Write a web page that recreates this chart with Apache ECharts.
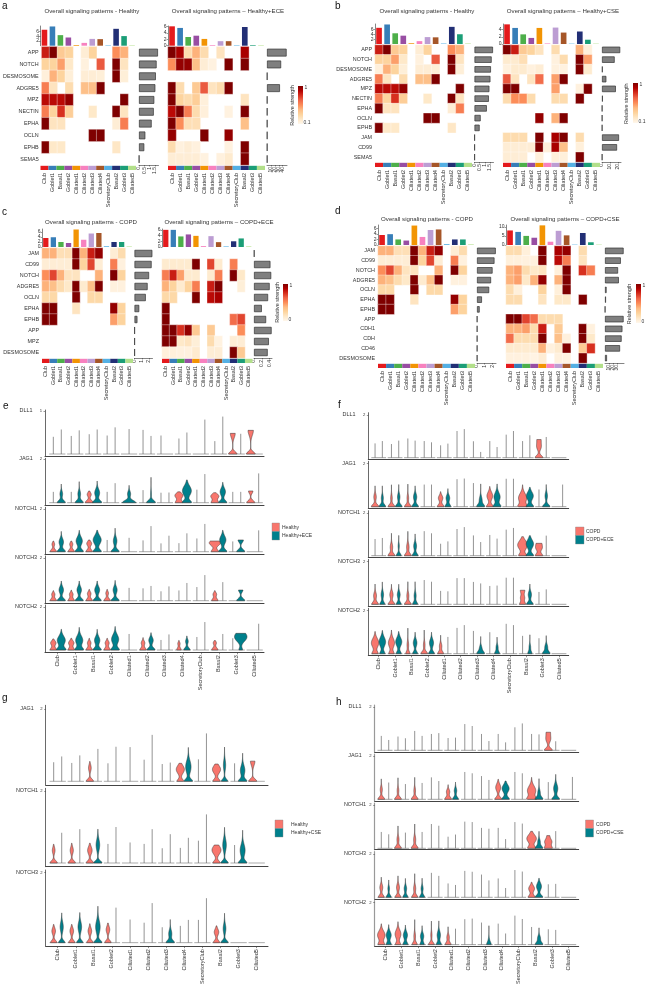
<!DOCTYPE html>
<html><head><meta charset="utf-8">
<style>html,body{margin:0;padding:0;background:#fff}#c{width:646px;height:987px}</style>
<script src="https://cdn.jsdelivr.net/npm/echarts@6/dist/echarts.min.js"></script>
</head><body><div id="c"></div>
<script>
// ---------- DATA ----------
const cats = ['Club','Goblet1','Basal1','Goblet2','Ciliated1','Ciliated2','Ciliated3','Ciliated4','SecretoryClub','Basal2','Goblet3','Ciliated5'];
const catColors = ['#e41a1c','#377eb8','#4daf4a','#984ea3','#f29403','#f781bf','#bc9dd3','#a65628','#54b0e4','#222f75','#1b9e77','#b2df8a'];

const aLeftRows = ['APP','NOTCH','DESMOSOME','ADGRE5','MPZ','NECTIN','EPHA','OCLN','EPHB','SEMA5'];
const aLeftHeat = [
 [.8,1,.3,.25,0,.08,.25,0,0,.5,.4,0],
 [.25,.25,.45,.12,0,.05,0,.65,0,1,.15,0],
 [.06,.4,.25,.07,0,.08,.08,.07,0,1,.07,0],
 [.55,.15,0,.2,0,.35,.35,1,0,0,0,0],
 [.85,.85,.85,.95,0,0,0,0,0,0,1,0],
 [.55,.25,.75,.28,0,0,.12,0,0,1,.15,0],
 [1,.15,.15,0,0,0,0,0,0,.08,.55,0],
 [0,0,0,0,0,0,1,1,0,0,0,0],
 [1,.12,.12,0,0,0,0,0,0,.13,0,0],
 [0,0,0,0,0,0,0,0,0,0,0,0]];
const aLeftTop = [6.8,8.2,4.5,3.5,.3,1.2,2.9,2.8,.2,7.2,4.1,.2];
const aLeftBars = [1.8,1.67,1.6,1.55,1.45,1.4,1.2,.6,.5,.02];
const aRightHeat = [
 [1,.9,.2,.4,.2,0,.15,0,0,.9,0,0],
 [.5,.95,.95,.35,.08,.04,0,1,0,1,0,0],
 [0,0,0,0,0,0,0,0,0,0,0,0],
 [1,.2,0,.3,.65,.15,.2,1,0,0,0,0],
 [1,.25,.2,.28,.06,0,0,0,0,.15,0,0],
 [.85,1,.55,.2,.06,0,0,.04,0,1,0,0],
 [1,.5,.18,.18,0,0,0,0,0,.35,0,0],
 [.95,0,0,0,1,0,0,.95,0,0,0,0],
 [.2,.05,.08,.05,0,0,0,.04,0,1,0,0],
 [.08,.08,.08,.08,.04,0,.05,.1,0,1,0,0]];
const aRightTop = [6,5.5,2.7,3.1,2.1,.2,1.4,1.4,.15,5.8,.2,.15];
const aRightBars = [50,36,.8,33,.8,.8,.8,.8,.8,.8];

const bRows = ['APP','NOTCH','DESMOSOME','ADGRE5','MPZ','NECTIN','EPHA','OCLN','EPHB','JAM','CD99','SEMA5'];
const bLeftHeat = [
 [.8,1,.3,.25,0,.08,.25,0,0,.5,.4,0],
 [.25,.25,.45,.12,0,.05,0,.65,0,1,.15,0],
 [.06,.4,.25,.07,0,.08,.08,.07,0,1,.07,0],
 [.55,.15,0,.2,0,.35,.35,1,0,0,0,0],
 [.85,.85,.85,.95,0,0,0,0,0,0,1,0],
 [.55,.25,.75,.28,0,0,.12,0,0,1,.15,0],
 [1,.15,.15,0,0,0,0,0,0,.08,.55,0],
 [0,0,0,0,0,0,1,1,0,0,0,0],
 [1,.12,.12,0,0,0,0,0,0,.13,0,0],
 [0,0,0,0,0,0,0,0,0,0,0,0],
 [0,0,0,0,0,0,0,0,0,0,0,0],
 [0,0,0,0,0,0,0,0,0,0,0,0]];
const bLeftTop = [6.8,8.2,4.5,3.5,.3,1.2,2.9,2.8,.2,7.2,4.1,.2];
const bLeftBars = [1.8,1.67,1.6,1.55,1.45,1.4,1.2,.6,.5,.02,.02,.02];
const bRightHeat = [
 [1,.8,.3,.25,.15,0,.2,0,0,.4,.06,0],
 [.1,.1,.18,0,0,0,.05,.2,0,1,.45,0],
 [.05,.1,.1,.05,.08,0,.05,.04,0,1,.1,0],
 [.65,.15,0,.15,.6,0,.45,1,0,0,0,0],
 [1,1,0,0,0,0,.45,0,0,.05,1,0],
 [.2,.5,.5,.2,0,0,.2,.2,0,1,0,0],
 [0,0,0,0,0,0,0,0,0,0,0,0],
 [0,0,0,0,.95,0,.4,1,0,0,0,0],
 [0,0,0,0,0,0,0,0,0,0,0,0],
 [.2,.2,.2,0,1,0,.9,1,0,.2,0,0],
 [.08,.08,.08,.08,1,.06,.9,.35,0,.06,0,0],
 [.08,.08,.08,0,.06,0,.06,.06,0,1,0,0]];
const bRightTop = [5.5,4.5,2.7,1.7,4.5,.15,4.6,3.2,.1,3.5,1.2,.1];
const bRightBars = [23,16,.8,5.5,17.5,1,.3,.3,.3,21.5,19,.3];

const cRows = ['JAM','CD99','NOTCH','ADGRE5','OCLN','EPHA','EPHB','APP','MPZ','DESMOSOME'];
const cLeftHeat = [
 [.4,.4,.18,.18,1,.4,.8,.95,0,.08,.2,0],
 [.08,.08,.08,.08,1,.25,.7,.08,0,.55,.05,0],
 [.5,.7,.4,.15,.15,0,0,.4,0,1,.25,0],
 [.4,.35,.2,.12,1,.1,.35,1,0,.05,.05,0],
 [.22,.22,0,0,1,0,.22,.22,0,0,0,0],
 [1,1,0,0,.15,0,0,0,0,.95,.25,0],
 [1,1,0,0,0,0,0,0,0,.45,.25,0],
 [0,0,0,0,0,0,0,0,0,0,0,0],
 [0,0,0,0,0,0,0,0,0,0,0,0],
 [0,0,0,0,0,0,0,0,0,0,0,0]];
const cLeftTop = [3.6,3.9,2,1.6,7,2.9,5.4,5.6,.3,2,2,.2];
const cLeftBars = [2.45,2.35,2,1.8,1.55,.65,.4,.03,.03,.03];
const cRightHeat = [
 [0,0,0,0,0,0,0,0,0,0,0,0],
 [.1,.1,.1,.1,1,0,.7,.1,0,.55,0,0],
 [.55,.8,.45,.1,.1,0,.1,.55,0,1,.12,0],
 [.4,.25,.1,.25,.55,0,.8,1,0,0,.07,0],
 [.22,.22,0,0,1,0,.85,.9,0,0,0,0],
 [1,0,0,0,0,0,0,0,0,0,0,0],
 [1,0,0,0,0,0,0,0,0,.6,.7,0],
 [1,1,.75,.95,.3,0,.3,0,0,0,.5,0],
 [1,1,.12,.15,.07,0,.2,.04,0,.08,.08,0],
 [.06,.06,.05,.05,.1,0,.08,.08,0,1,.3,0]];
const cRightTop = [6,6,3.7,4.4,3.9,.3,3.8,1.7,.2,2,3,.2];
const cRightBars = [.01,.42,.44,.4,.36,.2,.31,.45,.38,.35];

const dRows = ['JAM','CD99','NOTCH','ADGRE5','OCLN','EPHA','EPHB','APP','CDH1','CDH','CD46','DESMOSOME'];
const dLeftHeat = [
 [.4,.4,.18,.18,1,.4,.8,.95,0,.08,.2,0],
 [.08,.08,.08,.08,1,.25,.7,.08,0,.55,.05,0],
 [.5,.7,.4,.15,.15,0,0,.4,0,1,.25,0],
 [.4,.35,.2,.12,1,.1,.35,1,0,.05,.05,0],
 [.22,.22,0,0,1,0,.22,.22,0,0,0,0],
 [1,1,0,0,.15,0,0,0,0,.95,.25,0],
 [1,1,0,0,0,0,0,0,0,.45,.25,0],
 [0,0,0,0,0,0,0,0,0,0,0,0],
 [0,0,0,0,0,0,0,0,0,0,0,0],
 [0,0,0,0,0,0,0,0,0,0,0,0],
 [0,0,0,0,0,0,0,0,0,0,0,0],
 [0,0,0,0,0,0,0,0,0,0,0,0]];
const dLeftTop = [3.6,3.9,2,1.6,7,2.9,5.4,5.6,.3,2,2,.2];
const dLeftBars = [2.47,2.3,2.05,1.85,1.6,.65,.35,.03,.03,.03,.03,.03];
const dRightHeat = [
 [.2,.2,.06,0,1,0,.9,.95,0,.2,0,0],
 [.06,.06,.05,.05,1,0,.85,.55,0,.15,0,0],
 [.4,.45,.2,.12,.15,0,.06,1,0,.75,.55,0],
 [.4,.45,.12,.4,.95,0,.4,1,0,0,0,0],
 [.2,.06,0,0,.25,0,.06,1,0,0,0,0],
 [.2,.2,0,0,.15,0,.12,.12,0,1,0,0],
 [0,0,0,0,0,0,0,0,0,0,0,0],
 [1,1,.7,.6,.2,.2,.2,0,0,0,0,0],
 [.4,.4,.45,.2,.8,0,.3,0,0,1,.05,0],
 [.6,.2,.2,.2,1,0,.35,.05,0,1,.12,0],
 [.1,.1,.1,.1,.4,.05,.1,1,0,.3,.75,0],
 [.05,.05,.05,.03,.08,0,.05,.04,0,1,0,0]];
const dRightTop = [8,7.2,5,4,10.8,1.8,7.8,5.3,.2,6.6,1.5,.2];
const dRightBars = [47,40,33,35,4,2.5,.4,47,44,42,38,5];

const eGenes = ['DLL1','JAG1','NOTCH1','NOTCH3','NOTCH2'];
const eTickValues = [1,2,2,2,2];
const eRed = [
 [.4,.42,.46,.43,null,.56,.43,.36,null,.3,.48,.55],
 [.5,.5,.54,.5,null,.58,.46,.5,.6,.46,.5,.54],
 [.5,.5,.55,.55,null,.53,.39,.4,.62,.5,.48,null],
 [.47,.5,.53,.53,null,.58,.44,.48,.64,.47,null,null],
 [.52,.55,.55,.55,null,.58,.47,.45,.61,.44,.55,null]];
const eTeal = [
 [.57,.55,.57,.62,.58,.42,null,.5,.8,.87,.47,null],
 [.86,.97,1,.9,.8,1.17,.47,1.05,1.32,.94,.5,1.35],
 [.95,1,1,1.1,.65,1.2,.75,.86,1.3,1,.55,1],
 [.92,.92,.92,.95,.6,.69,.67,.83,1.2,.87,.5,null],
 [.97,1.06,.97,1.1,.75,.81,.73,.66,1.31,.75,.78,1.23]];
// row, category, condition, foot width, bulb position, bulb width, top width
const eBodies = [
 [0,10,0,.95,0,0,.55],[0,11,0,1,0,0,.6],
 [1,0,1,.9,.4,.3,0],[1,1,1,.9,.4,.3,0],[1,2,0,.9,.38,.45,0],[1,2,1,1,.45,.55,0],[1,4,1,1.5,.4,.35,0],[1,5,1,1,.4,.1,0],
 [1,7,0,.8,.33,.9,0],[1,7,1,1,.55,1,0],[1,9,0,.8,.3,.9,0],[1,9,1,.9,.5,.6,0],[1,11,0,.9,0,0,.5],
 [2,0,0,.7,.35,.3,0],[2,0,1,.9,.45,.5,0],[2,1,0,.7,.35,.35,0],[2,1,1,.9,.5,.7,0],[2,2,0,.7,.38,.55,0],[2,2,1,.9,.55,.9,0],[2,3,1,.9,.5,.4,0],
 [2,9,0,.8,.38,1,.4],[2,9,1,.9,.55,.7,0],[2,10,1,.9,0,0,.6],
 [3,0,0,.7,.3,.35,0],[3,0,1,.9,.5,.5,0],[3,1,0,.7,.3,.4,0],[3,1,1,.9,.5,.5,0],[3,2,0,.7,.33,.4,0],[3,2,1,.9,.5,.55,0],[3,3,0,.7,.35,.3,0],[3,3,1,.9,.5,.45,0],[3,9,0,.7,.3,.4,0],[3,10,1,.9,0,0,.5],
 [4,0,0,.7,.33,.6,0],[4,0,1,1,.45,.9,0],[4,1,0,.7,.33,.6,0],[4,1,1,.9,.45,.8,0],[4,2,0,.7,.33,.4,0],[4,2,1,.9,.45,.6,0],[4,3,0,.7,.33,.45,0],[4,3,1,.9,.5,.8,0],
 [4,5,0,.7,.33,.4,0],[4,5,1,.9,.45,.5,0],[4,7,0,.5,.3,.25,0],[4,7,1,.7,.4,.3,0],[4,9,0,.7,.33,.35,0],[4,10,1,.4,.55,1.1,.6]];
const eLegend = ['Healthy','Healthy+ECE'];

const fGenes = ['DLL1','JAG1','NOTCH1','NOTCH3','NOTCH2'];
const fTickValues = [2,2,2,2,2];
const fRed = [
 [.67,.64,.9,.78,.58,1.25,.77,.78,1.08,.78,.85,null],
 [.97,1.02,1.05,1.03,.7,1.28,1.1,.94,1.3,1.02,.8,null],
 [.78,1.05,1.14,1.15,.56,1.25,.95,.97,1.22,.89,.58,null],
 [.95,.94,1.06,1.14,.63,1.23,1.05,.86,1.25,.66,.58,null],
 [1.03,1.1,1.19,1.1,.86,1.2,1.06,1,1.39,.83,.72,null]];
const fTeal = [
 [.78,.8,.8,.72,.66,1.34,.27,.5,1.25,1.05,.97,null],
 [.97,1.03,.97,1.03,.84,1.31,1.06,1.06,1.3,.9,1.03,1.03],
 [.83,.95,1.02,1.05,.67,1.34,.64,.8,1.3,.94,.94,null],
 [1.05,.94,1.06,1.06,.61,1.23,.98,.88,1.25,.95,.7,null],
 [1.08,1.03,1,1,.78,1.33,.8,.77,1.33,.88,.84,null]];
const fBodies = [
 [0,10,0,.95,.5,.5,.5],
 [1,0,0,.9,.45,.3,0],[1,0,1,.8,.4,.25,0],[1,1,0,.8,.4,.2,0],[1,1,1,.8,.45,.3,0],[1,2,0,.8,.4,.2,0],[1,2,1,.8,.45,.4,0],[1,4,0,.8,.4,.55,0],[1,4,1,.7,.4,.45,0],[1,6,1,.9,.3,.35,0],
 [1,7,0,.8,.5,.7,0],[1,7,1,.9,.45,.75,0],[1,9,0,1,.4,1,0],[1,9,1,.9,.5,.85,0],[1,10,1,.9,.5,.3,0],
 [2,1,0,.8,.4,.3,0],[2,1,1,.6,.45,.15,0],[2,2,0,.8,.4,.3,0],[2,2,1,.7,.45,.35,0],[2,9,0,.9,.5,1.2,0],[2,9,1,.9,.55,.9,0],[2,10,0,.9,.35,.7,.6],
 [3,0,0,.8,.4,.35,0],[3,0,1,.6,.45,.3,0],[3,1,0,.8,.45,.4,0],[3,1,1,.6,.45,.35,0],[3,2,0,.8,.4,.25,0],[3,2,1,.6,.4,.25,0],[3,9,0,.7,.3,.5,.55],[3,9,1,.8,.45,.4,0],
 [4,0,0,.7,.5,.9,0],[4,0,1,.6,.55,.8,0],[4,1,0,.6,.5,.75,0],[4,1,1,.6,.55,.75,0],[4,2,0,.5,.4,.2,0],[4,2,1,.6,.5,.45,0],[4,3,0,.8,.4,.2,0],[4,3,1,.7,.5,.5,0],[4,4,0,.7,.35,.3,0],[4,6,1,.9,.25,.3,0],[4,7,1,.6,.3,.25,0],[4,9,1,.5,.3,.2,0],[4,10,1,.9,.3,.35,0]];
const fLegend = ['COPD','COPD+ECE'];

const gGenes = ['JAG1','NOTCH1','NOTCH3'];
const gTickValues = [2,2,2];
const gRed = [
 [.53,.51,.55,.5,null,.6,.48,.5,.61,.48,.5,.56],
 [.52,.55,.55,.53,null,.53,.41,.42,.62,.5,.5,null],
 [.52,.52,.54,.56,null,.57,.44,.48,.65,.48,null,null]];
const gTeal = [
 [.69,.72,.9,.96,.95,1.29,.52,.94,1.33,.95,.78,null],
 [.84,.94,.94,1,.57,.94,.8,.7,1.35,.99,.91,null],
 [.85,.86,1.04,1,.66,1.13,.66,.65,1.27,.84,null,null]];
const gBodies = [
 [0,2,0,.8,.37,.3,0],[0,7,0,.7,.33,.9,0],[0,7,1,.9,.4,.6,0],[0,9,0,.8,.33,.9,0],[0,9,1,.7,.45,.25,0],[0,10,1,.9,.3,.5,0],[0,11,0,.9,0,0,.5],
 [1,0,0,.8,.35,.3,0],[1,1,0,.8,.35,.35,0],[1,2,0,.8,.35,.5,0],[1,2,1,.9,.5,.4,0],[1,9,0,.8,.36,1,0],[1,9,1,.8,.5,.4,0],[1,10,1,.9,.35,.55,0],
 [2,0,0,.7,.33,.4,0],[2,0,1,.7,.45,.35,0],[2,1,0,.7,.33,.4,0],[2,1,1,.7,.45,.4,0],[2,2,0,.7,.33,.4,0],[2,2,1,.9,.45,.5,0],[2,3,0,.7,.37,.4,0],[2,6,1,.9,.25,.35,0],[2,9,0,.7,.3,.5,0],[2,9,1,.8,.4,.3,0]];
const gLegend = ['Healthy','Healthy+CSE'];

const hGenes = ['DLL1','JAG1','NOTCH1','NOTCH3','NOTCH2'];
const hTickValues = [2,2,2,2,2];
const hRed = [
 [.67,.64,.9,.76,.57,1.22,.76,.76,1.07,.76,.84,null],
 [.95,1,1.02,1.02,.68,1.27,1.08,.93,1.27,1.02,.8,null],
 [.76,1.04,1.13,1.13,.54,1.24,.95,.95,1.22,.79,.59,null],
 [.93,.99,1.09,1.13,.64,1.22,1.05,.87,1.26,.7,.6,null],
 [.99,1.09,1.19,1.12,.85,1.21,1.05,1,1.38,.84,.73,null]];
const hTeal = [
 [.48,.56,.67,.8,.59,1.13,.43,.37,1.25,.74,.42,null],
 [.78,.71,.76,.85,.8,1.21,.9,.85,1.21,.96,1.16,1.04],
 [.65,.73,.76,1.05,.64,1.22,.91,.43,1.15,.79,.8,null],
 [.8,.87,.88,.99,.57,1.18,.78,.43,1.19,.88,.62,null],
 [.95,.93,.9,1.13,.76,1.24,.9,.53,1.22,.8,.7,null]];
const hBodies = [
 [0,10,0,.95,.5,.5,.5],
 [1,0,0,.8,.45,.25,0],[1,1,0,.8,.4,.2,0],[1,2,0,.8,.4,.2,0],[1,4,0,.8,.35,.4,0],[1,4,1,.7,.4,.3,0],[1,7,0,.8,.55,.6,0],[1,7,1,.9,.5,.85,0],[1,9,0,1,.4,1,0],[1,9,1,.9,.3,.3,0],[1,10,1,.9,.5,.5,0],
 [2,1,0,.8,.4,.25,0],[2,2,0,.8,.4,.25,0],[2,9,0,.9,.45,1.15,0],[2,9,1,.9,.3,.3,0],[2,10,0,.9,.3,.85,.3],
 [3,0,0,.7,.45,.35,0],[3,0,1,.6,.4,.2,0],[3,1,0,.7,.45,.35,0],[3,1,1,.6,.4,.3,0],[3,2,0,.7,.4,.25,0],[3,2,1,.6,.4,.25,0],[3,9,0,.8,.4,.7,0],[3,9,1,.9,.5,.6,0],
 [4,0,0,.7,.45,.9,0],[4,0,1,.6,.45,.6,0],[4,1,0,.6,.5,.7,0],[4,1,1,.6,.45,.5,0],[4,2,0,.6,.4,.2,0],[4,2,1,.5,.4,.4,0],[4,3,0,.7,.45,.15,0],[4,3,1,.6,.45,.4,0],[4,4,0,.7,.35,.3,0],[4,6,1,.5,.2,.15,0],[4,9,1,.9,.3,.35,0]];
const hLegend = ['COPD','COPD+CSE'];

// ---------- BUILD ----------
const FONT = '"Liberation Sans", Arial, sans-serif';
const condColors = ['#f8766d','#00808c'];
const heatRamp = ['#fff7ec','#fee8c8','#fdd49e','#fdbb84','#fc8d59','#ef6548','#d7301f','#b30000','#7f0000'];
const grids=[], xAxes=[], yAxes=[], series=[], graphics=[], heatIdx=[];

function addGrid(l,t,r,b){ grids.push({left:l,top:t,width:r-l,height:b-t,show:false}); return grids.length-1; }
function text(x,y,t,size,o={}){ graphics.push({type:'text',x,y,silent:true,rotation:o.rot||0,style:{text:t,fontSize:size,fontFamily:FONT,fill:o.fill||'#333',textAlign:o.align||'left',textVerticalAlign:'middle',align:o.align||'left',verticalAlign:'middle'}}); }

function heatPanel(p){
  const rows=p.rows;
  // heatmap
  let g=addGrid(p.x0,p.y0,p.x1,p.y1);
  xAxes.push({gridIndex:g,type:'category',data:cats,show:false});
  yAxes.push({gridIndex:g,type:'category',data:rows,inverse:true,axisLine:{show:false},axisTick:{show:false},axisLabel:{show:!p.hideRows,fontSize:5.4,color:'#333',margin:3,interval:0,fontFamily:FONT},splitLine:{show:false}});
  const d=[]; p.heat.forEach((r,i)=>r.forEach((v,j)=>{ if(v>0) d.push([j,i,v]); }));
  heatIdx.push(series.length);
  series.push({type:'heatmap',xAxisIndex:xAxes.length-1,yAxisIndex:yAxes.length-1,data:d,itemStyle:{borderColor:'#fff',borderWidth:.35},emphasis:{disabled:true}});
  // top bars
  g=addGrid(p.x0,p.topY,p.x1,p.y0-1);
  xAxes.push({gridIndex:g,type:'category',data:cats,show:false});
  yAxes.push({gridIndex:g,type:'value',min:0,max:p.topMax,splitLine:{show:false},axisLine:{show:true,lineStyle:{color:'#333',width:.6}},
    axisTick:{show:true,length:1.5,lineStyle:{color:'#333',width:.5},customValues:p.topTicks},axisLabel:{fontSize:5,color:'#333',margin:1.5,customValues:p.topTicks,fontFamily:FONT,hideOverlap:false}});
  series.push({type:'bar',xAxisIndex:xAxes.length-1,yAxisIndex:yAxes.length-1,barWidth:'70%',data:p.top.map((v,i)=>({value:v,itemStyle:{color:catColors[i]}}))});
  // colour strip
  g=addGrid(p.x0,p.y1+.8,p.x1,p.y1+5);
  xAxes.push({gridIndex:g,type:'category',data:cats,axisLine:{show:false},axisTick:{show:false},axisLabel:{rotate:90,fontSize:5.4,color:'#333',margin:3,interval:0,fontFamily:FONT}});
  yAxes.push({gridIndex:g,type:'value',min:0,max:1,show:false});
  series.push({type:'bar',xAxisIndex:xAxes.length-1,yAxisIndex:yAxes.length-1,barWidth:'100%',data:cats.map((c,i)=>({value:1,itemStyle:{color:catColors[i]}}))});
  // side bars
  g=addGrid(p.bx0,p.y0,p.bx1,p.y1);
  xAxes.push({gridIndex:g,type:'value',min:0,max:p.rMax,splitLine:{show:false},axisLine:{show:true,lineStyle:{color:'#333',width:.6}},
    axisTick:{show:true,length:1.5,lineStyle:{color:'#333',width:.5},customValues:p.rTicks},axisLabel:{rotate:90,fontSize:5,color:'#333',margin:2,customValues:p.rTicks,fontFamily:FONT,hideOverlap:false}});
  yAxes.push({gridIndex:g,type:'category',data:rows,inverse:true,show:false});
  series.push({type:'bar',xAxisIndex:xAxes.length-1,yAxisIndex:yAxes.length-1,barWidth:'66%',data:p.bars,itemStyle:{color:'#7f7f7f',borderColor:'#333',borderWidth:.7}});
  text(p.tx,p.ty,p.title,6.1,{align:'center'});
}
function colorbar(x,y0,y1,hi,lo,nameX,nameY){
  graphics.push({type:'rect',shape:{x,y:y0,width:5,height:y1-y0},silent:true,style:{fill:{type:'linear',x:0,y:0,x2:0,y2:1,colorStops:heatRamp.slice().reverse().map((c,i)=>({offset:i/8,color:c}))}}});
  text(x+6.5,y0+1.5,hi,5); text(x+5.5,y1-1,lo,5);
  text(nameX,nameY,'Relative strength',5.4,{align:'center',rot:Math.PI/2});
}

function violinPanel(p){
  const unit=(p.cat11-p.cat0)/11, xMin=-(p.cat0-p.x0)/unit, xMax=(p.x1-p.cat0)/unit;
  const n=p.genes.length, ticksX=cats.map((c,i)=>i);
  p.genes.forEach((gene,r)=>{
    const [gridTop,tickY,base,axisY]=p.rows[r], tv=p.ticks[r], ppu=(base-tickY)/tv;
    const g=addGrid(p.x0,gridTop,p.x1,axisY), last=r===n-1;
    xAxes.push({gridIndex:g,type:'value',min:xMin,max:xMax,splitLine:{show:false},axisLine:{show:true,onZero:false,lineStyle:{color:'#444',width:1}},
      axisTick:{show:last,length:2,lineStyle:{color:'#444',width:.6},customValues:ticksX},
      axisLabel:{show:last,rotate:90,fontSize:5.5,color:'#333',margin:3,customValues:ticksX,formatter:v=>cats[Math.round(v)]||'',fontFamily:FONT,hideOverlap:false}});
    yAxes.push({gridIndex:g,type:'value',min:-(axisY-base)/ppu,max:(base-gridTop)/ppu,splitLine:{show:false},axisLine:{show:true,onZero:false,lineStyle:{color:p.yAxisColor||'#444',width:p.yAxisWidth||.8}},
      axisTick:{show:true,length:1.5,lineStyle:{color:'#333',width:.5},customValues:[tv]},
      axisLabel:{fontSize:4.2,color:'#333',margin:3,customValues:[tv],fontFamily:FONT,hideOverlap:false,showMinLabel:true,showMaxLabel:true}});
    const xi=xAxes.length-1, yi=yAxes.length-1;
    // foot strips
    series.push({type:'custom',xAxisIndex:xi,yAxisIndex:yi,silent:true,clip:false,data:ticksX.map(c=>[c,0]),encode:{x:0,y:1},
      renderItem(params,api){
        const a=api.coord([api.value(0)-.45,0]), b=api.coord([api.value(0)+.45,0]);
        return {type:'line',shape:{x1:a[0],y1:a[1],x2:b[0],y2:b[1]},style:{stroke:p.footColor,lineWidth:p.footWidth}};
      }});
    // violins
    const items=[];
    [p.red,p.teal].forEach((tbl,cond)=>tbl[r].forEach((top,c)=>{
      if(top==null) return;
      const b=p.bodies.find(q=>q[0]===r&&q[1]===c&&q[2]===cond)||[r,c,cond,0,0,0,0];
      const off=p.single.includes(c)?0:(cond===0?-.222:.222);
      items.push([c+off,top,b[3],b[4],b[5],b[6],cond]);
    }));
    series.push({type:'custom',xAxisIndex:xi,yAxisIndex:yi,silent:true,clip:false,data:items,encode:{x:0,y:1},
      renderItem(params,api){
        const x=api.value(0),top=api.value(1),foot=api.value(2),at=api.value(3),bulb=api.value(4),tw=api.value(5),cond=api.value(6);
        const hasBody=foot>0||bulb>0||tw>0;
        if(!hasBody){
          const a=api.coord([x,0]),b=api.coord([x,top]);
          return {type:'line',shape:{x1:a[0],y1:a[1],x2:b[0],y2:b[1]},style:{stroke:'#666',lineWidth:.7}};
        }
        const ppuNow=api.size([0,1])[1], fs=3.2/ppuNow, s=(.17*top+.02)*(1+.6*bulb);
        const N=48,L=[],R=[];
        for(let i=0;i<=N;i++){
          const v=top*i/N;
          const w=.25*(foot*Math.exp(-Math.pow(v/fs,2))+bulb*Math.exp(-Math.pow((v-at)/s,2))+tw*Math.exp(-Math.pow((v-top)/(.3*top),2)));
          L.push(api.coord([x-w,v])); R.unshift(api.coord([x+w,v]));
        }
        return {type:'polygon',shape:{points:L.concat(R)},style:{fill:condColors[cond],stroke:'#333',lineWidth:.5}};
      }});
    text(p.geneX,tickY-.5,gene,5.4,{align:'center'});
  });
  // legend
  p.legend.forEach((t,i)=>{
    graphics.push({type:'rect',silent:true,shape:{x:p.lx,y:p.ly+i*8.5,width:p.lw,height:8.5},style:{fill:condColors[i],stroke:'#888',lineWidth:.4}});
    text(p.ltx,p.ly+i*8.5+4.2,t,5);
  });
}

// panel letters
[['a',2,6],['b',335,6],['c',2,212],['d',335,211],['e',3,406],['f',338,405],['g',2,698],['h',336,702]].forEach(l=>text(l[1],l[2],l[0],10,{align:'left',fill:'#111'}));

const t0=[0,2,4,6,8];
heatPanel({title:'Overall signaling patterns - Healthy',tx:92,ty:11,rows:aLeftRows,heat:aLeftHeat,top:aLeftTop,bars:aLeftBars,x0:40.5,x1:136,y0:46.7,y1:165,topY:26,topMax:8.4,topTicks:t0,bx0:139,bx1:158.5,rMax:1.85,rTicks:[0,.5,1,1.5]});
heatPanel({title:'Overall signaling patterns \u2013 Healthy+ECE',tx:228,ty:11,hideRows:true,rows:aLeftRows,heat:aRightHeat,top:aRightTop,bars:aRightBars,x0:168,x1:265,y0:46.7,y1:165,topY:26,topMax:6.1,topTicks:[0,2,4,6],bx0:267,bx1:287,rMax:51,rTicks:[0,10,20,30,40,50]});
colorbar(298,86,124,'1','0.1',293,105.5);
heatPanel({title:'Overall signaling patterns - Healthy',tx:427,ty:11,rows:bRows,heat:bLeftHeat,top:bLeftTop,bars:bLeftBars,x0:375,x1:472,y0:45,y1:162,topY:24,topMax:8.4,topTicks:t0,bx0:474.5,bx1:493.5,rMax:1.85,rTicks:[0,.5,1,1.5]});
heatPanel({title:'Overall signaling patterns \u2013 Healthy+CSE',tx:563,ty:11,hideRows:true,rows:bRows,heat:bRightHeat,top:bRightTop,bars:bRightBars,x0:503,x1:600,y0:45,y1:162,topY:24,topMax:5.6,topTicks:[0,2,4],bx0:602,bx1:621,rMax:24,rTicks:[0,10,20]});
colorbar(633,83,123,'1','0.1',627,103.7);
heatPanel({title:'Overall signaling patterns - COPD',tx:91,ty:222,rows:cRows,heat:cLeftHeat,top:cLeftTop,bars:cLeftBars,x0:42,x1:133,y0:248,y1:358,topY:229,topMax:7.2,topTicks:[0,2,4,6],bx0:134.5,bx1:152.5,rMax:2.47,rTicks:[0,1,2]});
heatPanel({title:'Overall signaling patterns \u2013 COPD+ECE',tx:219,ty:222,hideRows:true,rows:cRows,heat:cRightHeat,top:cRightTop,bars:cRightBars,x0:162,x1:252.5,y0:248,y1:358,topY:229,topMax:6.3,topTicks:[0,2,4,6],bx0:254,bx1:272,rMax:.46,rTicks:[0,.2,.4]});
colorbar(283,284,321,'1','0',278,302.5);
heatPanel({title:'Overall signaling patterns - COPD',tx:427,ty:219,rows:dRows,heat:dLeftHeat,top:dLeftTop,bars:dLeftBars,x0:378,x1:475,y0:246,y1:363,topY:225,topMax:7.2,topTicks:[0,2,4,6],bx0:477,bx1:496,rMax:2.5,rTicks:[0,1,2]});
heatPanel({title:'Overall signaling patterns \u2013 COPD+CSE',tx:565,ty:219,hideRows:true,rows:dRows,heat:dRightHeat,top:dRightTop,bars:dRightBars,x0:506,x1:603,y0:246,y1:363,topY:225,topMax:11,topTicks:[0,5,10],bx0:605,bx1:624,rMax:48,rTicks:[0,10,20,30,40]});
colorbar(636,284,323,'1','0',630,304);

violinPanel({genes:eGenes,ticks:eTickValues,red:eRed,teal:eTeal,bodies:eBodies,single:[4],legend:eLegend,x0:45,x1:264,cat0:57.3,cat11:254.7,geneX:26,footColor:'#aaa',footWidth:1,
 rows:[[410,411,454,456.3],[458.3,459.3,502.7,505],[507.3,509,551.7,554],[556,558,600.7,603],[605,607.3,650,652.3]],lx:272,ly:523,lw:7.5,ltx:282});
violinPanel({genes:fGenes,ticks:fTickValues,red:fRed,teal:fTeal,bodies:fBodies,single:[],legend:fLegend,x0:368.3,x1:568.7,cat0:378.7,cat11:559,geneX:349,footColor:'#666',footWidth:.6,
 rows:[[412.7,415,457.7,459.3],[461.3,463.7,506.7,508.3],[510.7,513,555.7,557.3],[559.3,561.7,604.3,606],[608.3,610.7,653.7,655.3]],lx:575.5,ly:527,lw:8.5,ltx:586});
violinPanel({genes:gGenes,ticks:gTickValues,red:gRed,teal:gTeal,bodies:gBodies,single:[4],legend:gLegend,x0:45.7,x1:268,cat0:57.7,cat11:256.7,geneX:27,footColor:'#888',footWidth:.7,
 rows:[[705.3,709.3,781.3,785],[788.3,791,863,866.7],[870,872.7,944.7,948.3]],lx:275,ly:820,lw:8,ltx:291});
violinPanel({genes:hGenes,ticks:hTickValues,red:hRed,teal:hTeal,bodies:hBodies,single:[],legend:hLegend,x0:374.7,x1:578.7,cat0:385,cat11:568.7,geneX:355,footColor:'#666',footWidth:.6,yAxisColor:'#999',yAxisWidth:1.2,
 rows:[[705,707.3,750.3,752],[754,756.3,799.3,801],[803,805.3,848.3,849.7],[851.7,854,897.3,899],[900.7,902.7,946.7,948.3]],lx:585.5,ly:820,lw:8,ltx:596});

const chart=echarts.init(document.getElementById('c'),null,{renderer:'canvas',width:646,height:987});
chart.setOption({animation:false,backgroundColor:'#fff',textStyle:{fontFamily:FONT},grid:grids,xAxis:xAxes,yAxis:yAxes,series,
 visualMap:[{show:false,type:'continuous',seriesIndex:heatIdx,min:0,max:1,dimension:2,inRange:{color:heatRamp}}],
 graphic:{elements:graphics}});
</script></body></html>
